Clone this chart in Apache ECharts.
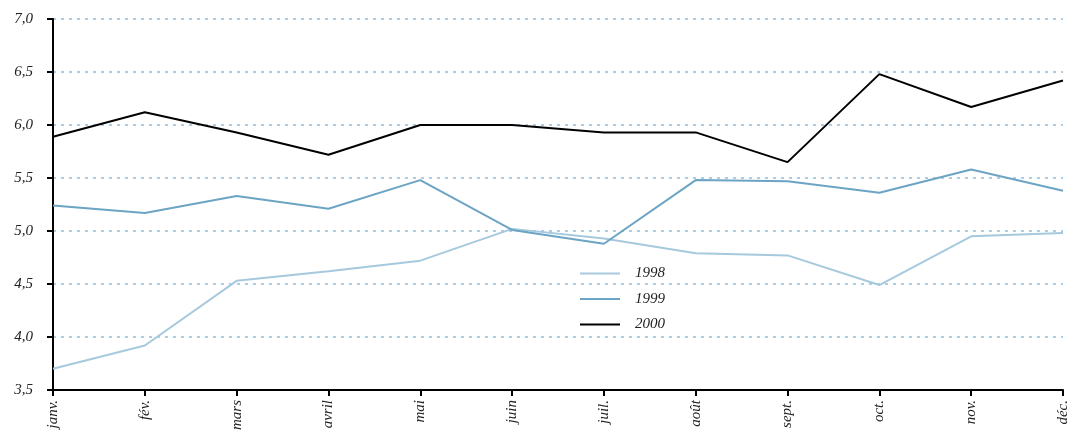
<!DOCTYPE html>
<html>
<head>
<meta charset="utf-8">
<script src="https://cdn.jsdelivr.net/npm/echarts@6/dist/echarts.min.js"></script>
<style>
  html, body { margin: 0; padding: 0; background: #fff; }
  #chart { width: 1071px; height: 443px; }
</style>
</head>
<body>
<div id="chart"></div>
<script>
var months = ["janv.", "fév.", "mars", "avril", "mai", "juin", "juil.", "août", "sept.", "oct.", "nov.", "déc."];
var y1998 = [3.70, 3.92, 4.53, 4.62, 4.72, 5.02, 4.93, 4.79, 4.77, 4.49, 4.95, 4.98];
var y1999 = [5.24, 5.17, 5.33, 5.21, 5.48, 5.01, 4.88, 5.48, 5.47, 5.36, 5.58, 5.38];
var y2000 = [5.89, 6.12, 5.93, 5.72, 6.00, 6.00, 5.93, 5.93, 5.65, 6.48, 6.17, 6.42];

var fontFam = "'Liberation Serif', 'DejaVu Serif', serif";

var chart = echarts.init(document.getElementById("chart"));
chart.setOption({
  animation: false,
  grid: { left: 53, right: 8, top: 19, bottom: 53 },
  legend: {
    orient: "vertical",
    left: 575,
    top: 261,
    itemGap: 10.5,
    itemWidth: 40,
    itemHeight: 2,
    icon: "rect",
    textStyle: { fontFamily: fontFam, fontStyle: "italic", fontSize: 15, color: "#222", padding: [0, 0, 0, 10] },
    data: ["1998", "1999", "2000"]
  },
  xAxis: {
    type: "category",
    boundaryGap: false,
    data: months,
    axisLine: { lineStyle: { color: "#000", width: 2 } },
    axisTick: { alignWithLabel: true, length: 6, lineStyle: { color: "#000", width: 2 } },
    axisLabel: {
      rotate: 90,
      margin: 10,
      interval: 0,
      fontFamily: fontFam,
      fontStyle: "italic",
      fontSize: 15,
      color: "#222"
    },
    splitLine: { show: false }
  },
  yAxis: {
    type: "value",
    min: 3.5,
    max: 7.0,
    interval: 0.5,
    axisLine: { show: true, lineStyle: { color: "#000", width: 2 } },
    axisTick: { show: true, length: 6, lineStyle: { color: "#000", width: 2 } },
    axisLabel: {
      margin: 20,
      fontFamily: fontFam,
      fontStyle: "italic",
      fontSize: 15,
      color: "#222",
      formatter: function (v) { return v.toFixed(1).replace(".", ","); }
    },
    splitLine: { show: true, lineStyle: { color: "#8cc0e0", type: [3, 5], width: 1.5 } }
  },
  series: [
    { name: "1998", type: "line", data: y1998, symbol: "none", lineStyle: { color: "#a7c9dd", width: 2 }, itemStyle: { color: "#a7c9dd" } },
    { name: "1999", type: "line", data: y1999, symbol: "none", lineStyle: { color: "#6ca4c4", width: 2 }, itemStyle: { color: "#6ca4c4" } },
    { name: "2000", type: "line", data: y2000, symbol: "none", lineStyle: { color: "#000", width: 2 }, itemStyle: { color: "#000" } }
  ]
});
</script>
</body>
</html>
